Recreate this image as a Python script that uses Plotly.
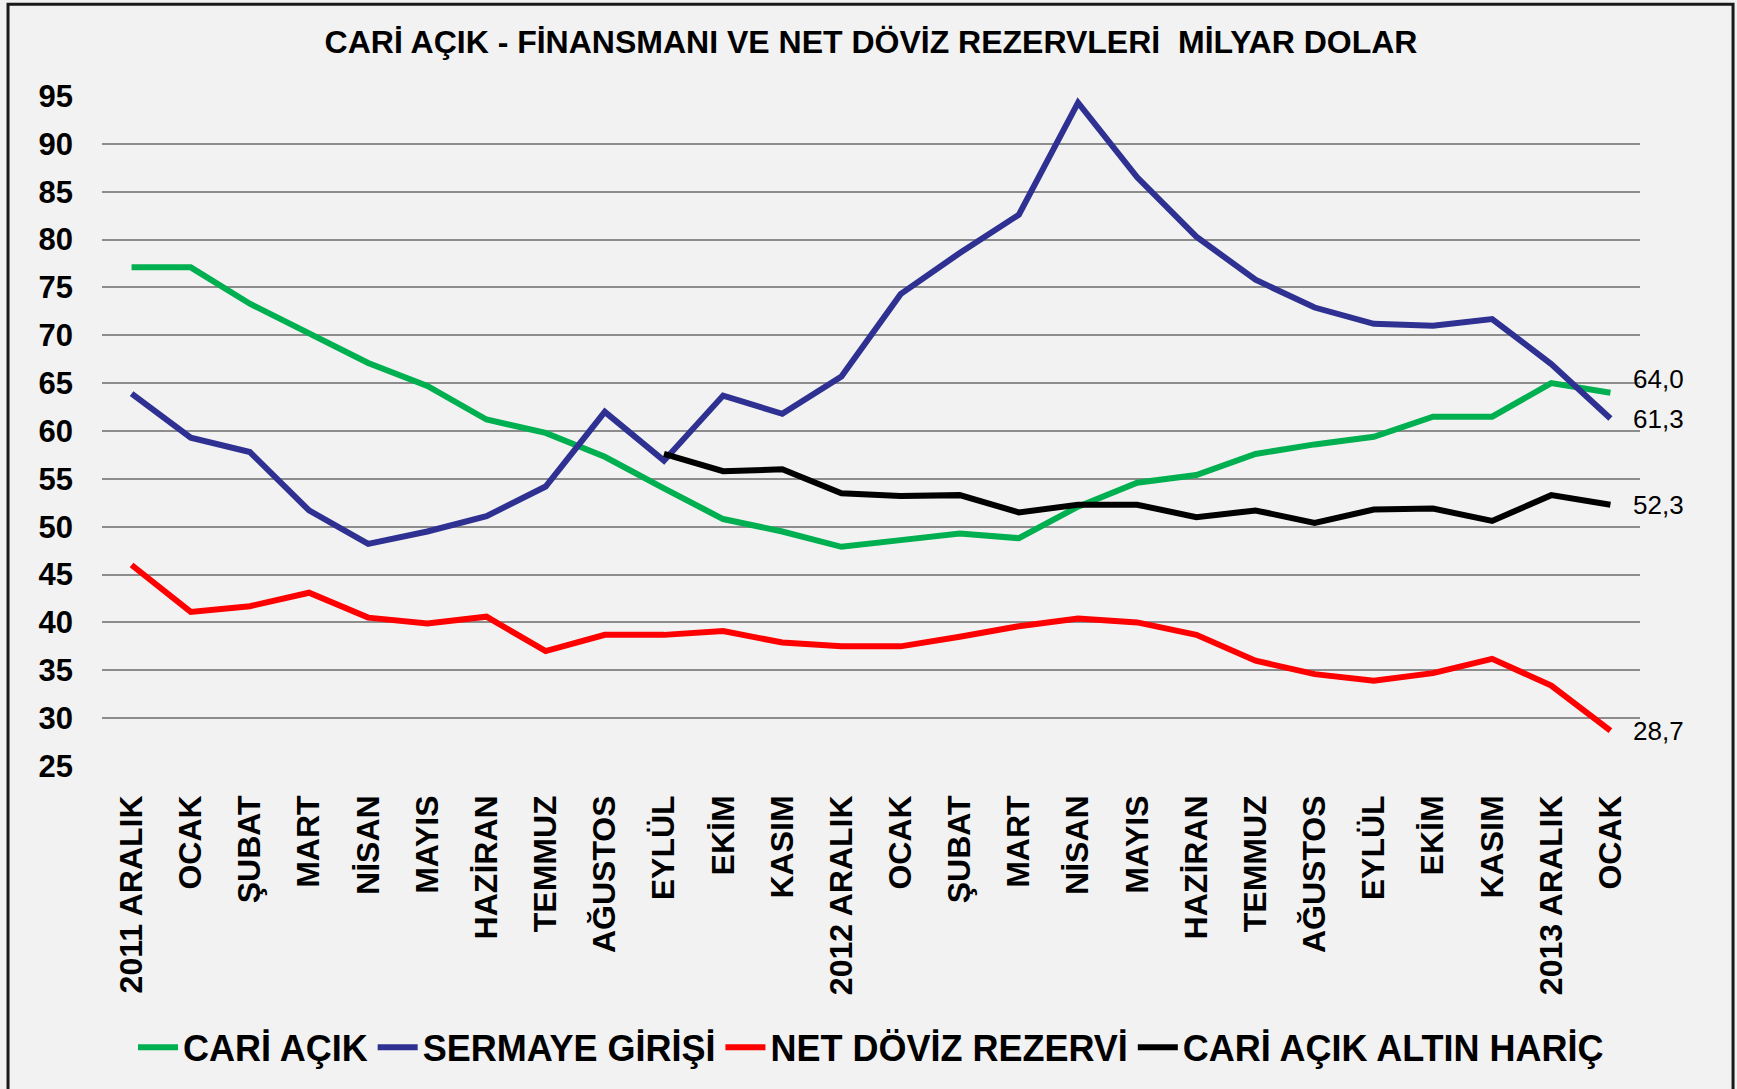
import plotly.graph_objects as go

# ---- data ----
tick_labels = ["2011 ARALIK", "OCAK", "ŞUBAT", "MART", "NİSAN", "MAYIS", "HAZİRAN",
               "TEMMUZ", "AĞUSTOS", "EYLÜL", "EKİM", "KASIM",
               "2012 ARALIK", "OCAK", "ŞUBAT", "MART", "NİSAN", "MAYIS", "HAZİRAN",
               "TEMMUZ", "AĞUSTOS", "EYLÜL", "EKİM", "KASIM",
               "2013 ARALIK", "OCAK"]
x_idx = list(range(len(tick_labels)))

cari_acik = [77.1, 77.1, 73.3, 70.2, 67.1, 64.7, 61.2, 59.8, 57.3, 54.0, 50.8, 49.5,
             47.9, 48.6, 49.3, 48.8, 52.1, 54.6, 55.4, 57.6, 58.6, 59.4, 61.5, 61.5,
             65.0, 64.0]
sermaye_girisi = [63.9, 59.3, 57.8, 51.7, 48.2, 49.5, 51.1, 54.2, 62.0, 56.9, 63.7, 61.8,
                  65.7, 74.3, 78.6, 82.6, 94.3, 86.5, 80.3, 75.8, 72.9, 71.2, 71.0, 71.7,
                  67.0, 61.3]
net_doviz_rezervi = [46.0, 41.1, 41.7, 43.1, 40.5, 39.9, 40.6, 37.0, 38.7, 38.7, 39.1, 37.9,
                     37.5, 37.5, 38.5, 39.6, 40.4, 40.0, 38.7, 36.0, 34.6, 33.9, 34.7, 36.2,
                     33.4, 28.7]
cari_acik_altin_haric = [None] * 9 + [57.6, 55.8, 56.0, 53.5, 53.2, 53.3, 51.5, 52.3, 52.3,
                                      51.0, 51.7, 50.4, 51.8, 51.9, 50.6, 53.3, 52.3]

series_names = ["CARİ AÇIK", "SERMAYE GİRİŞİ", "NET DÖVİZ REZERVİ", "CARİ AÇIK ALTIN HARİÇ"]
series_values = [cari_acik, sermaye_girisi, net_doviz_rezervi, cari_acik_altin_haric]
series_colors = ["#00B050", "#2E3192", "#FF0000", "#000000"]
label_yshift = [14, 0, 0, 0]

y_ticks = list(range(25, 100, 5))

# ---- figure ----
fig = go.Figure()
for name, vals, col in zip(series_names, series_values, series_colors):
    fig.add_trace(go.Scatter(x=x_idx, y=vals, name=name, mode="lines",
                             line=dict(color=col, width=6),
                             connectgaps=False))

# end-of-line data labels
for vals, dy in zip(series_values, label_yshift):
    v = vals[-1]
    fig.add_annotation(x=x_idx[-1], y=v, text=f"{v:.1f}".replace(".", ","),
                       showarrow=False, xanchor="left", yanchor="middle",
                       xshift=21, yshift=dy,
                       font=dict(family="Liberation Sans, Arial, sans-serif", size=26, color="#000000"))

fig.add_shape(type="rect", xref="paper", yref="paper",
              x0=-0.0611, x1=1.0605, y0=-0.6, y1=1.137,
              line=dict(color="#1a1a1a", width=3), fillcolor="rgba(0,0,0,0)", layer="above")

fig.update_layout(
    width=1737, height=1089,
    paper_bgcolor="#F2F2F2", plot_bgcolor="#F2F2F2",
    margin=dict(l=102, r=97, t=96, b=321),
    title=dict(text="<b>CARİ AÇIK - FİNANSMANI VE NET DÖVİZ REZERVLERİ  MİLYAR DOLAR</b>",
               x=0.5, xref="paper", xanchor="center", y=1 - 42 / 1089, yanchor="middle",
               font=dict(family="Liberation Sans, Arial, sans-serif",
                         size=32, color="#000000")),
    showlegend=True,
    hovermode=False,
    legend=dict(orientation="h", x=0.5, xanchor="center", y=-0.42, yanchor="middle",
                font=dict(family="Liberation Sans, Arial, sans-serif",
                          size=36, color="#000000", weight="bold"),
                bgcolor="rgba(0,0,0,0)", itemwidth=40),
    xaxis=dict(range=[-0.5, 25.5], tickmode="array", tickvals=x_idx, ticktext=tick_labels,
               tickangle=-90, showgrid=False, zeroline=False, showline=False,
               ticks="", ticklabelstandoff=22,
               tickfont=dict(family="Liberation Sans, Arial, sans-serif", size=32,
                             color="#000000", weight="bold")),
    yaxis=dict(range=[25, 95], tickmode="array", tickvals=y_ticks,
               showgrid=True, gridcolor="#8C8C8C", gridwidth=2, zeroline=False,
               showline=False, ticks="", ticklabelstandoff=28,
               tickfont=dict(family="Liberation Sans, Arial, sans-serif", size=31,
                             color="#000000", weight="bold")),
)

fig.write_html("out.html", config={"displayModeBar": False},
               post_script="document.body.style.margin='0';")
